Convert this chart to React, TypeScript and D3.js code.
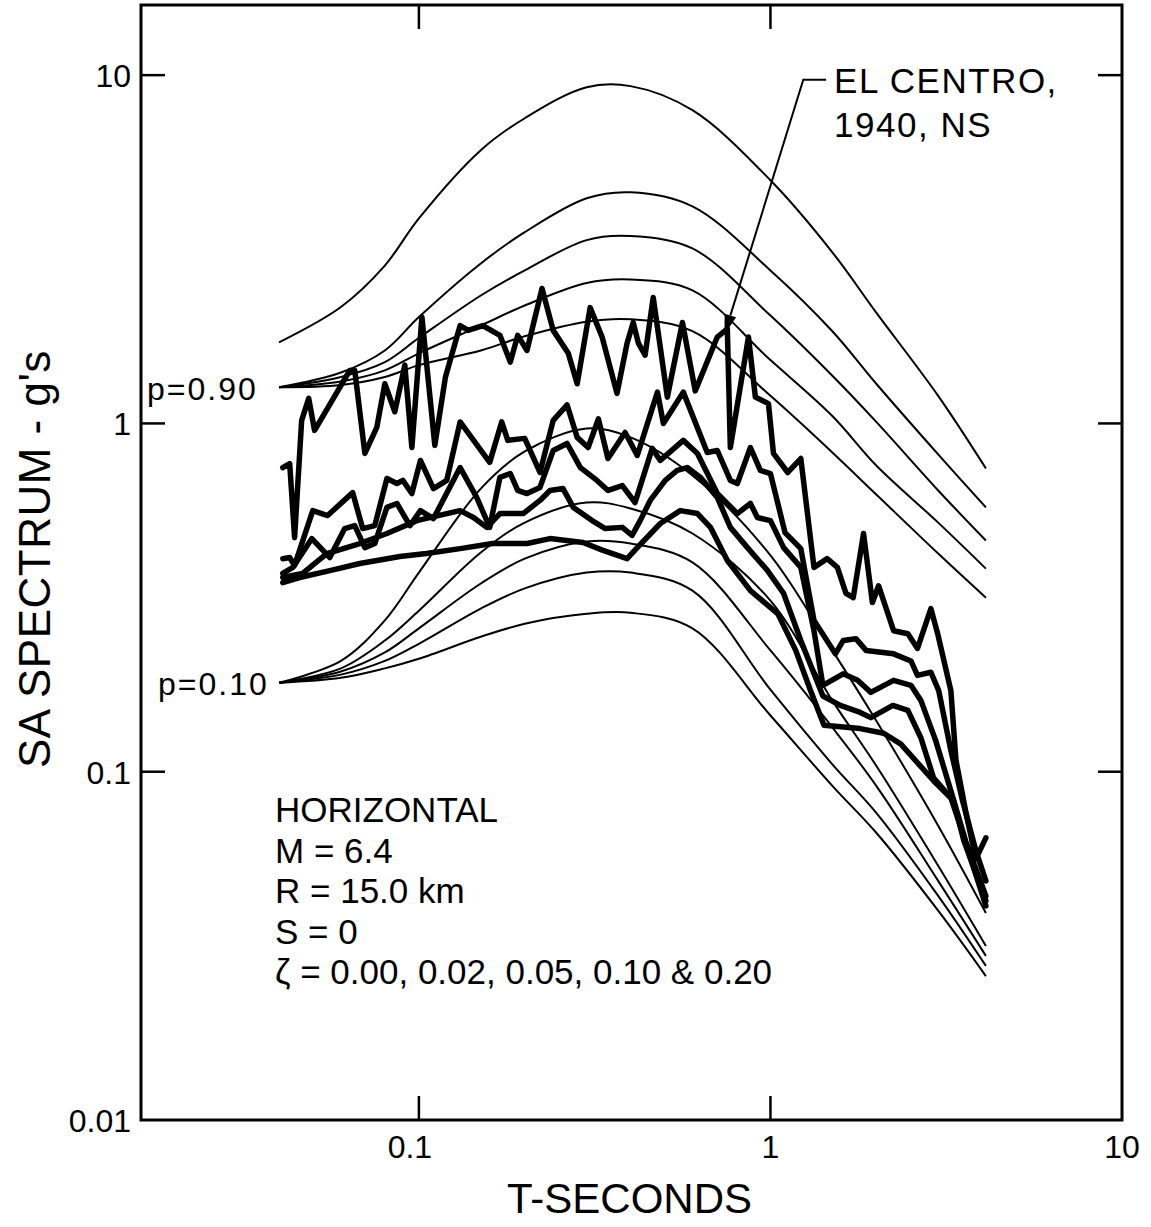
import React from "react";
import * as d3 from "d3";

// ---------- DATA ----------
const periods = [0.04, 0.06, 0.08, 0.1, 0.15, 0.2, 0.3, 0.4, 0.6, 1.0, 1.5, 2, 3, 4.1];

// p = 0.90 predicted spectra (zeta = 0, .02, .05, .10, .20)
const p90Damp000 = [1.71, 2.16, 2.84, 3.88, 6.09, 7.52, 9.23, 9.3, 7.93, 4.99, 3.1, 2.08, 1.2, 0.743];
const p90Damp002 = [1.27, 1.4, 1.62, 2.02, 2.88, 3.54, 4.43, 4.61, 4.2, 2.75, 1.84, 1.3, 0.815, 0.574];
const p90Damp005 = [1.27, 1.36, 1.5, 1.76, 2.33, 2.75, 3.36, 3.45, 3.18, 2.04, 1.37, 1.01, 0.642, 0.461];
const p90Damp010 = [1.27, 1.32, 1.42, 1.59, 1.91, 2.18, 2.53, 2.59, 2.41, 1.52, 1.05, 0.757, 0.519, 0.383];
const p90Damp020 = [1.27, 1.29, 1.36, 1.47, 1.62, 1.78, 1.96, 1.99, 1.84, 1.2, 0.825, 0.625, 0.423, 0.316];

// p = 0.10 predicted spectra
const p10Damp000 = [0.18, 0.208, 0.272, 0.373, 0.65, 0.831, 0.967, 0.912, 0.709, 0.418, 0.223, 0.14, 0.07, 0.0393];
const p10Damp002 = [0.18, 0.198, 0.238, 0.29, 0.426, 0.519, 0.593, 0.57, 0.483, 0.31, 0.16, 0.104, 0.0537, 0.0316];
const p10Damp005 = [0.18, 0.194, 0.22, 0.258, 0.347, 0.409, 0.458, 0.452, 0.399, 0.223, 0.134, 0.0911, 0.0486, 0.0296];
const p10Damp010 = [0.18, 0.19, 0.208, 0.233, 0.294, 0.336, 0.373, 0.373, 0.331, 0.172, 0.105, 0.0762, 0.044, 0.0277];
const p10Damp020 = [0.18, 0.186, 0.198, 0.211, 0.244, 0.266, 0.284, 0.286, 0.258, 0.145, 0.0911, 0.0668, 0.0399, 0.0259];

// El Centro 1940 NS recorded spectra [T (s), SA (g)]
const elCentroZ000: [number, number][] = [
  [0.041, 0.747], [0.0429, 0.767], [0.0443, 0.47], [0.0464, 1.02], [0.0486, 1.18], [0.0505, 0.955],
  [0.0636, 1.42], [0.0657, 1.42], [0.0702, 0.82], [0.0759, 0.974], [0.08, 1.3], [0.0854, 1.08],
  [0.0912, 1.47], [0.0955, 0.853], [0.102, 2.02], [0.111, 0.865], [0.119, 1.36], [0.131, 1.91],
  [0.138, 1.85], [0.152, 1.91], [0.17, 1.79], [0.182, 1.5], [0.191, 1.79], [0.203, 1.62],
  [0.224, 2.44], [0.241, 1.85], [0.266, 1.59], [0.282, 1.3], [0.307, 2.15], [0.332, 1.77],
  [0.366, 1.22], [0.391, 1.7], [0.407, 1.95], [0.421, 1.7], [0.44, 1.57], [0.464, 2.3],
  [0.509, 1.19], [0.562, 1.95], [0.611, 1.24], [0.706, 1.77], [0.754, 1.87], [0.769, 0.853],
  [0.866, 1.77], [0.906, 1.19], [0.987, 1.14], [1.02, 0.82], [1.12, 0.723], [1.22, 0.793],
  [1.33, 0.386], [1.45, 0.409], [1.55, 0.386], [1.64, 0.325], [1.72, 0.316], [1.84, 0.483],
  [1.95, 0.306], [2.03, 0.342], [2.24, 0.254], [2.46, 0.249], [2.62, 0.226], [2.86, 0.294],
  [2.99, 0.249], [3.26, 0.171], [3.37, 0.108], [3.59, 0.0772], [3.84, 0.0562], [4.1, 0.0646],
];
const elCentroZ002: [number, number][] = [
  [0.041, 0.409], [0.0429, 0.412], [0.0443, 0.391], [0.0499, 0.562], [0.055, 0.544], [0.0648, 0.633],
  [0.0692, 0.499], [0.0749, 0.509], [0.0811, 0.695], [0.0866, 0.672], [0.09, 0.686], [0.0955, 0.629],
  [0.101, 0.783], [0.11, 0.65], [0.12, 0.686], [0.131, 1.01], [0.159, 0.773], [0.172, 1.01],
  [0.179, 0.894], [0.2, 0.906], [0.221, 0.723], [0.241, 1.02], [0.264, 1.13], [0.282, 0.912],
  [0.303, 0.853], [0.324, 1.03], [0.345, 0.793], [0.386, 0.942], [0.418, 0.809], [0.477, 1.23],
  [0.496, 1.0], [0.565, 1.23], [0.661, 0.825], [0.706, 0.836], [0.769, 0.686], [0.805, 0.672],
  [0.877, 0.853], [0.936, 0.733], [1.0, 0.718], [1.1, 0.486], [1.22, 0.437], [1.33, 0.272],
  [1.53, 0.218], [1.61, 0.238], [1.75, 0.241], [1.87, 0.223], [2.24, 0.218], [2.51, 0.208],
  [2.62, 0.189], [2.86, 0.193], [3.01, 0.171], [3.26, 0.115], [3.52, 0.0825], [3.84, 0.0593],
  [4.1, 0.0486],
];
const elCentroZ005: [number, number][] = [
  [0.041, 0.371], [0.0438, 0.386], [0.0496, 0.467], [0.0558, 0.412], [0.0615, 0.499], [0.0657, 0.509],
  [0.0702, 0.44], [0.0749, 0.452], [0.0811, 0.574], [0.0866, 0.589], [0.0943, 0.509], [0.101, 0.562],
  [0.11, 0.533], [0.131, 0.747], [0.146, 0.613], [0.159, 0.503], [0.17, 0.7], [0.182, 0.718],
  [0.191, 0.642], [0.203, 0.629], [0.221, 0.655], [0.241, 0.836], [0.264, 0.876], [0.288, 0.747],
  [0.321, 0.686], [0.345, 0.642], [0.379, 0.663], [0.412, 0.593], [0.461, 0.848], [0.486, 0.783],
  [0.565, 0.894], [0.62, 0.82], [0.706, 0.629], [0.805, 0.551], [0.877, 0.589], [0.918, 0.537],
  [1.0, 0.526], [1.09, 0.44], [1.22, 0.386], [1.33, 0.254], [1.41, 0.177], [1.61, 0.191],
  [1.77, 0.183], [1.93, 0.169], [2.24, 0.183], [2.51, 0.177], [2.68, 0.16], [2.95, 0.123],
  [3.26, 0.0882], [3.59, 0.0633], [4.1, 0.044],
];
const elCentroZ010: [number, number][] = [
  [0.041, 0.361], [0.0467, 0.371], [0.0547, 0.423], [0.0679, 0.452], [0.0811, 0.483], [0.0987, 0.526],
  [0.12, 0.551], [0.131, 0.562], [0.143, 0.537], [0.156, 0.503], [0.17, 0.551], [0.198, 0.551],
  [0.221, 0.601], [0.236, 0.642], [0.257, 0.65], [0.275, 0.574], [0.311, 0.526], [0.339, 0.499],
  [0.379, 0.503], [0.404, 0.477], [0.426, 0.526], [0.455, 0.601], [0.502, 0.686], [0.543, 0.733],
  [0.58, 0.747], [0.632, 0.7], [0.706, 0.613], [0.769, 0.503], [0.86, 0.44], [0.981, 0.378],
  [1.09, 0.325], [1.22, 0.238], [1.41, 0.165], [1.58, 0.155], [1.8, 0.148], [1.93, 0.143],
  [2.23, 0.155], [2.46, 0.15], [2.68, 0.125], [2.91, 0.0961], [3.26, 0.0842], [3.48, 0.0691],
  [4.1, 0.0412],
];
const elCentroZ020: [number, number][] = [
  [0.041, 0.349], [0.0458, 0.361], [0.0558, 0.378], [0.0679, 0.396], [0.0883, 0.415], [0.105, 0.423],
  [0.131, 0.437], [0.162, 0.452], [0.203, 0.452], [0.236, 0.467], [0.293, 0.455], [0.334, 0.432],
  [0.391, 0.409], [0.418, 0.44], [0.486, 0.516], [0.554, 0.562], [0.62, 0.551], [0.675, 0.503],
  [0.754, 0.404], [0.877, 0.331], [1.05, 0.284], [1.18, 0.223], [1.3, 0.171], [1.42, 0.136],
  [1.8, 0.133], [2.1, 0.129], [2.35, 0.12], [2.91, 0.0942], [3.32, 0.0825], [3.55, 0.0633],
  [4.1, 0.0426],
];

// Axis ticks
const yTicks = [0.01, 0.1, 1, 10];
const yTickLabels = ["0.01", "0.1", "1", "10"];
const xTicks = [0.1, 1, 10];
const xTickLabels = ["0.1", "1", "10"];

// Annotation
const infoLines = ["HORIZONTAL", "M = 6.4", "R = 15.0 km", "S = 0", "ζ = 0.00, 0.02, 0.05, 0.10 & 0.20"];
const recordLabel = ["EL CENTRO,", "1940, NS"];
const leaderTip: [number, number] = [0.74, 1.8];
const leaderElbow: [number, number] = [1.24, 9.7];
const leaderEnd: [number, number] = [1.44, 9.7];

// ---------- CHART ----------
const W = 1151;
const H = 1227;
const FONT = "'Liberation Sans', Arial, Helvetica, sans-serif";

export default function App() {
  const x = d3.scaleLog().domain([0.0162, 10]).range([141, 1122]);
  const y = d3.scaleLog().domain([0.01, 15.9]).range([1120, 5]);

  const left = x.range()[0];
  const right = x.range()[1];
  const top = y.range()[1];
  const bottom = y.range()[0];

  const thinLine = d3
    .line<number>()
    .x((_, i) => x(periods[i]))
    .y((d) => y(d))
    .curve(d3.curveCatmullRom.alpha(0.5));

  const thickLine = d3
    .line<[number, number]>()
    .x((d) => x(d[0]))
    .y((d) => y(d[1]));

  const thinSeries = [
    p90Damp000, p90Damp002, p90Damp005, p90Damp010, p90Damp020,
    p10Damp000, p10Damp002, p10Damp005, p10Damp010, p10Damp020,
  ];
  const thickSeries = [elCentroZ000, elCentroZ002, elCentroZ005, elCentroZ010, elCentroZ020];

  const tickLen = 24;

  // leader arrow
  const tx = x(leaderTip[0]);
  const ty = y(leaderTip[1]);
  const ex = x(leaderElbow[0]);
  const ey = y(leaderElbow[1]);
  const dx = tx - ex;
  const dy = ty - ey;
  const len = Math.sqrt(dx * dx + dy * dy);
  const ux = dx / len;
  const uy = dy / len;
  const aL = 20;
  const aW = 6;
  const bx = tx - ux * aL;
  const by = ty - uy * aL;
  const arrow = `M${tx},${ty}L${bx - uy * aW},${by + ux * aW}L${bx + uy * aW},${by - ux * aW}Z`;

  return (
    <svg
      width={W}
      height={H}
      viewBox={`0 0 ${W} ${H}`}
      style={{ position: "absolute", left: 0, top: 0, background: "#fff" }}
      fontFamily={FONT}
    >
      <rect x={0} y={0} width={W} height={H} fill="#fff" />

      {/* thin predicted curves */}
      <g fill="none" stroke="#000" strokeWidth={2}>
        {thinSeries.map((s, i) => (
          <path key={i} d={thinLine(s) || ""} />
        ))}
      </g>

      {/* thick recorded spectra */}
      <g fill="none" stroke="#000" strokeWidth={5.5} strokeLinejoin="round" strokeLinecap="round">
        {thickSeries.map((s, i) => (
          <path key={i} d={thickLine(s) || ""} />
        ))}
      </g>

      {/* frame */}
      <rect
        x={left}
        y={top}
        width={right - left}
        height={bottom - top}
        fill="none"
        stroke="#000"
        strokeWidth={3}
      />

      {/* ticks */}
      <g stroke="#000" strokeWidth={2.5}>
        {yTicks.slice(1).map((t) => (
          <g key={t}>
            <line x1={left} x2={left + tickLen} y1={y(t)} y2={y(t)} />
            <line x1={right - tickLen} x2={right} y1={y(t)} y2={y(t)} />
          </g>
        ))}
        {xTicks.slice(0, 2).map((t) => (
          <g key={t}>
            <line x1={x(t)} x2={x(t)} y1={bottom} y2={bottom - tickLen} />
            <line x1={x(t)} x2={x(t)} y1={top} y2={top + tickLen} />
          </g>
        ))}
      </g>

      {/* y tick labels */}
      <g fontSize={32} textAnchor="end">
        {yTicks.map((t, i) => (
          <text key={t} x={131} y={y(t) + 12}>
            {yTickLabels[i]}
          </text>
        ))}
      </g>
      {/* x tick labels */}
      <g fontSize={32} textAnchor="middle">
        {xTicks.map((t, i) => (
          <text key={t} x={x(t) + (i === 0 ? -9 : 0)} y={1158}>
            {xTickLabels[i]}
          </text>
        ))}
      </g>

      {/* axis titles */}
      <text x={507} y={1213} fontSize={42}>
        T-SECONDS
      </text>
      <text transform="translate(50,768) rotate(-90)" fontSize={44} letterSpacing={0.5}>
        SA SPECTRUM - g's
      </text>

      {/* probability labels */}
      <text x={147} y={400} fontSize={32} letterSpacing={2}>
        p=0.90
      </text>
      <text x={158} y={695} fontSize={32} letterSpacing={2}>
        p=0.10
      </text>

      {/* info block */}
      <g fontSize={35}>
        {infoLines.map((l, i) => (
          <text key={i} x={275} y={822 + i * 40.5}>
            {l}
          </text>
        ))}
      </g>

      {/* El Centro leader */}
      <path
        d={`M${x(leaderEnd[0])},${y(leaderEnd[1])}L${ex},${ey}L${bx},${by}`}
        fill="none"
        stroke="#000"
        strokeWidth={2}
      />
      <path d={arrow} fill="#000" />
      <g fontSize={35} letterSpacing={1.5}>
        {recordLabel.map((l, i) => (
          <text key={i} x={x(leaderEnd[0]) + 8} y={y(leaderEnd[1]) + 13 + i * 44}>
            {l}
          </text>
        ))}
      </g>
    </svg>
  );
}
